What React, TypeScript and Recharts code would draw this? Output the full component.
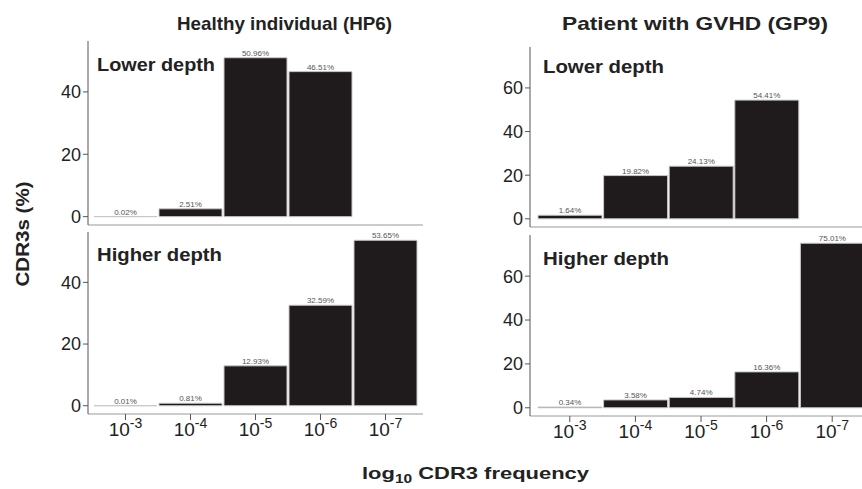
import { Bar, BarChart, LabelList, XAxis, YAxis } from 'recharts';

// categories: log10 CDR3 frequency bins (exponent of 10)
const bins = ['-3', '-4', '-5', '-6', '-7'];

// CDR3s (%) per bin
const healthyLower = [0.02, 2.51, 50.96, 46.51, 0];
const healthyHigher = [0.01, 0.81, 12.93, 32.59, 53.65];
const gvhdLower = [1.64, 19.82, 24.13, 54.41, 0];
const gvhdHigher = [0.34, 3.58, 4.74, 16.36, 75.01];

const healthyTicks = [0, 20, 40];
const gvhdTicks = [0, 20, 40, 60];

const SANS = '"Liberation Sans", Arial, sans-serif';
const NARROW = '"Liberation Sans Narrow", "Liberation Sans", Arial, sans-serif';

const toRows = (vals: number[]) => bins.map((b, i) => ({ bin: b, pct: vals[i] }));
const pctLabel = (v: any) => (Number(v) === 0 ? '0%' : `${Number(v).toFixed(2)}%`);

function PowerTick(props: any) {
  const { x, y, payload } = props;
  return (
    <text x={x} y={y + 14} textAnchor="middle" fontSize={19} fill="#222" fontFamily={SANS}>
      10<tspan dy={-8} fontSize={14}>{payload.value}</tspan>
    </text>
  );
}

type PanelProps = {
  vals: number[];
  ticks: number[];
  domain: [number, number];
  left: number;
  top: number;
  width: number;
  height: number;
  bottom: boolean;
  pad: number;
};

function Panel({ vals, ticks, domain, left, top, width, height, bottom, pad }: PanelProps) {
  return (
    <div style={{ position: 'absolute', left, top }}>
      <BarChart
        width={width}
        height={height}
        data={toRows(vals)}
        margin={{ top: 0, right: 0, bottom: 0, left: 0 }}
        barCategoryGap={1}
        style={{ overflow: 'visible' }}
      >
        <XAxis
          dataKey="bin"
          padding={{ left: pad, right: pad }}
          axisLine={{ stroke: '#999' }}
          tickLine={bottom ? { stroke: '#555' } : false}
          tickSize={6}
          tick={bottom ? <PowerTick /> : false}
          height={bottom ? 34 : 1}
          interval={0}
        />
        <YAxis
          type="number"
          domain={domain}
          ticks={ticks}
          interval={0}
          allowDataOverflow
          width={48}
          axisLine={{ stroke: '#555' }}
          tickLine={{ stroke: '#555' }}
          tickSize={5}
          tick={{ fontSize: 18, fill: '#222', fontFamily: SANS }}
        />
        <Bar dataKey="pct" fill="#1f1b1c" stroke="#c8c8c8" strokeWidth={1} isAnimationActive={false}>
          <LabelList
            dataKey="pct"
            position="top"
            offset={2}
            formatter={pctLabel}
            style={{ fontSize: 8, fill: '#555', fontFamily: SANS }}
          />
        </Bar>
      </BarChart>
    </div>
  );
}

export default function App() {
  const healthyDomain: [number, number] = [-2.68, 56.33];
  const gvhdDomain: [number, number] = [-3.75, 78.76];
  return (
    <div
      style={{
        position: 'absolute',
        left: 0,
        top: 0,
        width: 862,
        height: 489,
        overflow: 'hidden',
        background: '#fff',
      }}
    >
      <Panel vals={healthyLower} ticks={healthyTicks} domain={healthyDomain}
        left={40} top={41} width={383} height={185} bottom={false} pad={5} />
      <Panel vals={healthyHigher} ticks={healthyTicks} domain={healthyDomain}
        left={40} top={232} width={383} height={216} bottom pad={5} />
      <Panel vals={gvhdLower} ticks={gvhdTicks} domain={gvhdDomain}
        left={482} top={47} width={390} height={181} bottom={false} pad={7} />
      <Panel vals={gvhdHigher} ticks={gvhdTicks} domain={gvhdDomain}
        left={482} top={235} width={390} height={215} bottom pad={7} />

      <svg width={862} height={489} style={{ position: 'absolute', left: 0, top: 0, pointerEvents: 'none' }}>
        <g fontFamily={NARROW} fontWeight="bold" fontSize={19} fill="#222">
          <text x={177} y={30} textLength={215} lengthAdjust="spacingAndGlyphs">Healthy individual (HP6)</text>
          <text x={562} y={30} textLength={266} lengthAdjust="spacingAndGlyphs">Patient with GVHD  (GP9)</text>
        </g>
        <g fontFamily={SANS} fontWeight="bold" fontSize={18} fill="#222">
          <text x={97} y={71} textLength={118} lengthAdjust="spacingAndGlyphs">Lower depth</text>
          <text x={543} y={73} textLength={121} lengthAdjust="spacingAndGlyphs">Lower depth</text>
          <text x={97} y={261} textLength={125} lengthAdjust="spacingAndGlyphs">Higher depth</text>
          <text x={543} y={265} textLength={126} lengthAdjust="spacingAndGlyphs">Higher depth</text>
        </g>
        <text
          x={0}
          y={0}
          transform="translate(29,234) rotate(-90)"
          textAnchor="middle"
          fontFamily={SANS}
          fontWeight="bold"
          fontSize={19}
          fill="#222"
          textLength={105}
          lengthAdjust="spacingAndGlyphs"
        >
          CDR3s (%)
        </text>
        <text x={362} y={479} fontFamily={SANS} fontWeight="bold" fontSize={17} fill="#222"
          textLength={227} lengthAdjust="spacingAndGlyphs">
          log<tspan dy={4} fontSize={12}>10</tspan><tspan dy={-4}> CDR3 frequency</tspan>
        </text>
      </svg>
    </div>
  );
}
